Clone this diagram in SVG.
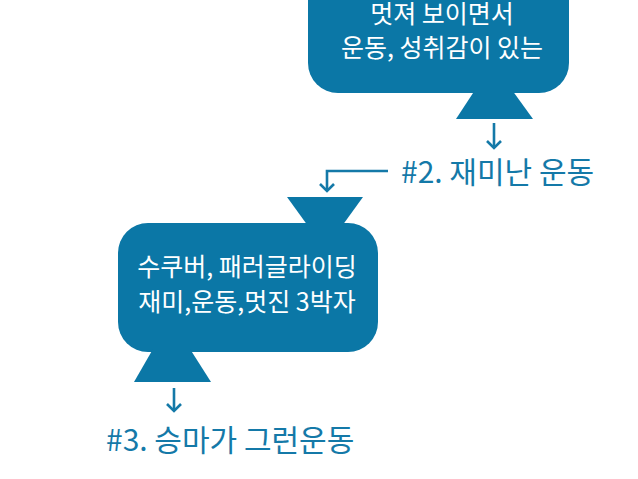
<svg xmlns="http://www.w3.org/2000/svg" width="638" height="479" viewBox="0 0 638 479">
<style>
.shape{fill:#0B77A6}
.inner{font-family:"Noto Sans CJK KR","Noto Sans",sans-serif;font-size:25px;fill:#ffffff;text-anchor:middle}
.label{font-family:"Noto Sans CJK KR","Noto Sans",sans-serif;font-size:30px;fill:#1479A8}
.conn{fill:none;stroke:#1479A8;stroke-width:2.6}
</style>
<defs>
<marker id="chev" markerUnits="userSpaceOnUse" viewBox="-10 -10 12 20" refX="0" refY="0" markerWidth="12" markerHeight="20" orient="auto">
<path d="M-7,-7 L0,0 L-7,7" fill="none" stroke="#1479A8" stroke-width="2.6" stroke-linejoin="miter"/>
</marker>
</defs>
<rect width="638" height="479" fill="#ffffff"/>
<g id="node-top">
<rect class="shape" x="308" y="-40" width="261" height="133" rx="30"/>
<polygon class="shape" points="475,90 512,90 533,119 456,119"/>
<text class="inner" x="442" y="23">멋져 보이면서</text>
<text class="inner" x="442" y="57">운동, 성취감이 있는</text>
</g>
<g id="node-mid">
<rect class="shape" x="118" y="223" width="260" height="129" rx="30"/>
<polygon class="shape" points="287,197 363,197 342,226 308,226"/>
<polygon class="shape" points="153,349 190,349 211,382 134,382"/>
<text class="inner" x="247" y="276">수쿠버, 패러글라이딩</text>
<text class="inner" x="247" y="311">재미,운동,멋진 3박자</text>
</g>
<g id="label-2">
<text class="label" x="401" y="183">#2. 재미난 운동</text>
</g>
<g id="label-3">
<text class="label" x="106" y="451">#3. 승마가 그런운동</text>
</g>
<g id="connectors">
<path class="conn" d="M494,123 L494,148" marker-end="url(#chev)"/>
<path class="conn" d="M388,171 L327,171 L327,191" marker-end="url(#chev)"/>
<path class="conn" d="M174,388 L174,411" marker-end="url(#chev)"/>
</g>
</svg>
